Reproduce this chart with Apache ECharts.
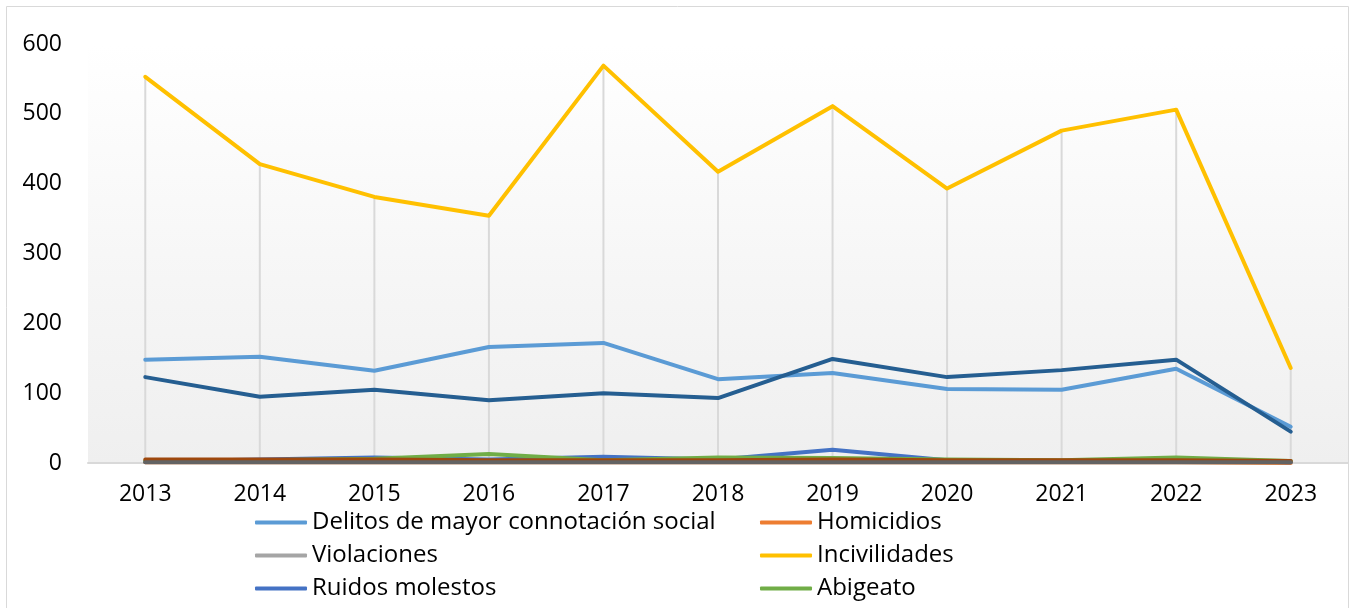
<!DOCTYPE html>
<html>
<head>
<meta charset="utf-8">
<script src="https://cdn.jsdelivr.net/npm/echarts@6/dist/echarts.min.js"></script>
<style>
  html, body { margin: 0; padding: 0; background: #fff; }
  #chart { width: 1351px; height: 608px; }
</style>
</head>
<body>
<div id="chart"></div>
<script>
// categories and values
const years = ['2013', '2014', '2015', '2016', '2017', '2018', '2019', '2020', '2021', '2022', '2023'];
const yTicks = [0, 100, 200, 300, 400, 500, 600];

const delitos = [148, 152, 132, 166, 172, 120, 129, 106, 105, 135, 52];
const homicidios = [1, 1, 1, 1, 1, 1, 1, 1, 1, 1, 0];
const violaciones = [3, 3, 3, 3, 3, 3, 3, 2, 2, 2, 2];
const incivilidades = [553, 428, 381, 354, 569, 417, 511, 393, 476, 506, 136];
const ruidos = [2, 5, 8, 5, 9, 5, 19, 4, 2, 4, 1];
const abigeato = [3, 4, 6, 13, 4, 8, 7, 5, 4, 8, 3];
// series whose legend entries are cut off in the original
const serie7 = [123, 95, 105, 90, 100, 93, 149, 123, 133, 148, 45];
const serie8 = [5, 5, 5, 4, 4, 4, 5, 4, 4, 4, 3];
const serie9 = [1, 1, 1, 1, 1, 1, 1, 1, 1, 1, 1];

const seriesDefs = [
  { name: 'Delitos de mayor connotación social', data: delitos, color: '#5b9bd5' },
  { name: 'Homicidios', data: homicidios, color: '#ed7d31' },
  { name: 'Violaciones', data: violaciones, color: '#a5a5a5' },
  { name: 'Incivilidades', data: incivilidades, color: '#ffc000' },
  { name: 'Ruidos molestos', data: ruidos, color: '#4472c4' },
  { name: 'Abigeato', data: abigeato, color: '#70ad47' },
  { name: 'Serie7', data: serie7, color: '#255e91' },
  { name: 'Serie8', data: serie8, color: '#9e480e' },
  { name: 'Serie9', data: serie9, color: '#636363' },
];

// drop lines go from the highest point of each year down to the axis
const dropTop = years.map((_, i) => Math.max(...seriesDefs.map((s) => s.data[i])));

const font = '"Open Sans", Lato, sans-serif';
const chart = echarts.init(document.getElementById('chart'));

const legendStyle = {
  orient: 'vertical',
  top: 505,
  itemWidth: 52,
  itemHeight: 4,
  itemGap: 8,
  icon: 'roundRect',
  textStyle: { fontFamily: font, fontSize: 24, color: '#000', padding: [0, 0, 0, 0], lineHeight: 25 },
};

chart.setOption({
  animation: false,
  graphic: [
    {
      type: 'rect',
      shape: { x: 6.5, y: 6.5, width: 1342, height: 620 },
      style: { fill: 'none', stroke: '#d9d9d9', lineWidth: 1 },
      z: -10,
    },
  ],
  grid: {
    left: 88,
    right: 3,
    top: 44,
    bottom: 145,
    show: true,
    borderWidth: 0,
    backgroundColor: new echarts.graphic.LinearGradient(0, 0, 0, 1, [
      { offset: 0, color: '#ffffff' },
      { offset: 1, color: '#efefef' },
    ]),
  },
  legend: [
    Object.assign({ left: 250, data: [seriesDefs[0].name, seriesDefs[2].name, seriesDefs[4].name] }, legendStyle),
    Object.assign({ left: 755, data: [seriesDefs[1].name, seriesDefs[3].name, seriesDefs[5].name] }, legendStyle),
  ],
  xAxis: {
    type: 'category',
    data: years,
    boundaryGap: true,
    axisLine: { show: true, lineStyle: { color: '#d9d9d9', width: 2 } },
    axisTick: { show: false },
    axisLabel: { fontFamily: font, fontSize: 23, color: '#000', margin: 20 },
    splitLine: { show: false },
  },
  yAxis: {
    type: 'value',
    min: yTicks[0],
    max: yTicks[yTicks.length - 1],
    interval: yTicks[1] - yTicks[0],
    axisLine: { show: false },
    axisTick: { show: false },
    splitLine: { show: false },
    axisLabel: { fontFamily: font, fontSize: 23, color: '#000', margin: 26 },
  },
  series: [
    {
      name: 'drop',
      type: 'bar',
      data: dropTop,
      barWidth: 2,
      silent: true,
      itemStyle: { color: '#d9d9d9' },
      z: 1,
    },
  ].concat(
    seriesDefs.map((s) => ({
      name: s.name,
      type: 'line',
      data: s.data,
      symbol: 'none',
      smooth: false,
      color: s.color,
      lineStyle: { width: 4, color: s.color, cap: 'round', join: 'round' },
      z: 2,
    }))
  ),
});
</script>
</body>
</html>
